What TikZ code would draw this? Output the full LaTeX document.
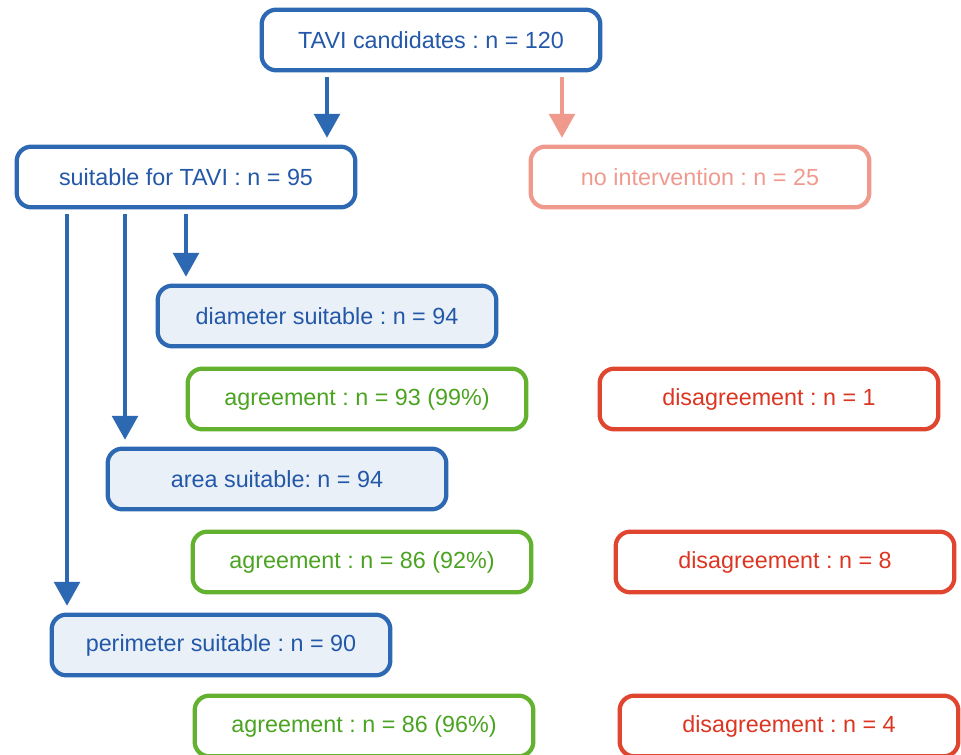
\documentclass[tikz,border=0pt]{standalone}
\usepackage{fontspec}
\setmainfont{Liberation Sans}
\usetikzlibrary{arrows.meta}
\definecolor{tblue}{HTML}{2D68B2}
\definecolor{tbluetext}{HTML}{2358A8}
\definecolor{tfill}{HTML}{EAF0F8}
\definecolor{tpink}{HTML}{F09A8E}
\definecolor{tgreen}{HTML}{62B22F}
\definecolor{tgreentext}{HTML}{4AA321}
\definecolor{tred}{HTML}{E0452F}
\definecolor{tredtext}{HTML}{DC3522}
\frenchspacing

\begin{document}
\begin{tikzpicture}[x = 0.75pt, y = -0.75pt,
        box/.style ={rectangle, rounded corners = 11pt, draw, line width = 3.2pt,
        minimum width = 254pt, minimum height = 45.5pt, inner sep = 0pt,
        font = \fontsize{17.5}{20}\selectfont},
        bluebox/.style ={box, tblue, text = tbluetext},
        suitbox/.style ={bluebox, fill = tfill},
        pinkbox/.style ={box, tpink, text = tpink},
        agreebox/.style ={box, tgreen, text = tgreentext},
        disagreebox/.style ={box, tred, text = tredtext},
        flow/.style ={-{Triangle[width = 19pt, length = 18pt]}, line width = 3.5pt,
        shorten < = 3.5pt, shorten > = 5pt}]

        \useasboundingbox (0, 0) rectangle (961, 755);

        %\node [estilo] (nombre) at (x, y) {texto};
        \node[bluebox] (n1) at (431, 40) {TAVI candidates : n = 120};
        \node[bluebox] (n2) at (186, 177) {suitable for TAVI : n = 95};
        \node[pinkbox] (n3) at (700, 177) {no intervention : n = 25};

        \node[suitbox] (n4) at (327, 316) {diameter suitable : n = 94};
        \node[agreebox] (n5) at (357, 399) {agreement : n = 93 (99\%)};
        \node[disagreebox] (n6) at (769, 399) {disagreement : n = 1};

        \node[suitbox] (n7) at (277, 479) {area suitable: n = 94};
        \node[agreebox] (n8) at (362, 562) {agreement : n = 86 (92\%)};
        \node[disagreebox] (n9) at (785, 562) {disagreement : n = 8};

        \node[suitbox] (n10) at (221, 645) {perimeter suitable : n = 90};
        \node[agreebox] (n11) at (364, 726) {agreement : n = 86 (96\%)};
        \node[disagreebox] (n12) at (789, 726) {disagreement : n = 4};

        % columnas de las flechas
        \coordinate (c1) at (327, 0);
        \coordinate (c2) at (562, 0);
        \coordinate (c3) at (186, 0);
        \coordinate (c4) at (125, 0);
        \coordinate (c5) at (67, 0);

        \draw[flow, tblue] (n1.south -| c1) -- (n2.north -| c1);
        \draw[flow, tpink] (n1.south -| c2) -- (n3.north -| c2);

        \draw[flow, tblue] (n2.south -| c3) -- (n4.north -| c3);
        \draw[flow, tblue] (n2.south -| c4) -- (n7.north -| c4);
        \draw[flow, tblue] (n2.south -| c5) -- (n10.north -| c5);
\end{tikzpicture}
\end{document}
